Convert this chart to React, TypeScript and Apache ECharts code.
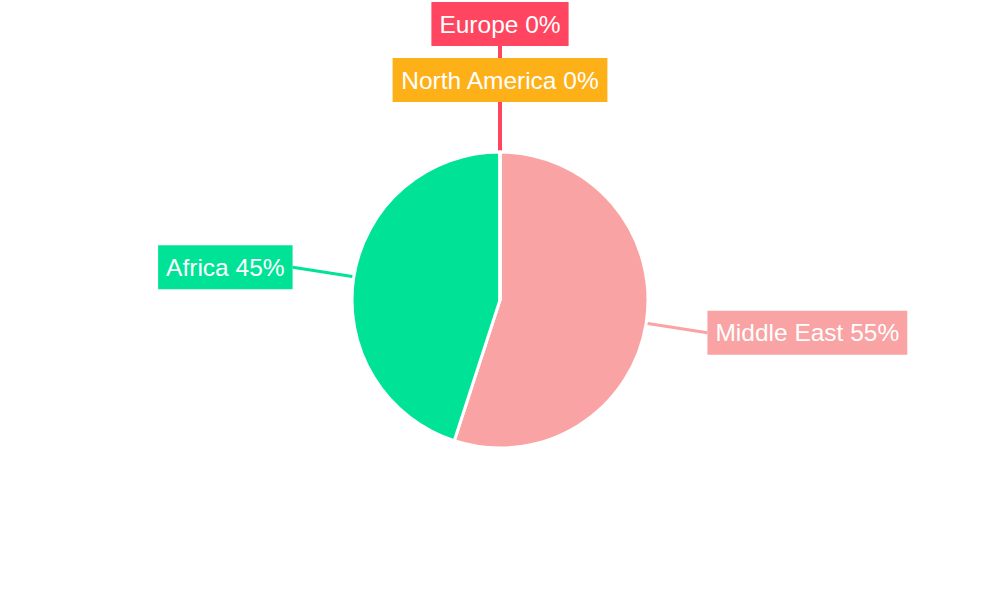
import {useEffect, useRef} from 'react';
import * as echarts from 'echarts';

// regions and their shares
const regions = ['Middle East', 'Africa', 'North America', 'Europe'];
const shares = [55, 45, 0, 0];
const regionColors = ['#F9A3A4', '#00E396', '#FEB019', '#FF4560'];

// how far each label sits from the pie edge
const lineLengths = [62, 62, 50, 106];

export default function App() {
    const ref = useRef<HTMLDivElement | null>(null);

    useEffect(() => {
        document.body.style.margin = '0';
        if (!ref.current) return;
        const chart = echarts.init(ref.current, null, {renderer: 'svg'});

        chart.setOption({
            animation: false,
            series: [
                {
                    type: 'pie',
                    center: ['50%', '50%'],
                    radius: 148,
                    startAngle: 90,
                    clockwise: true,
                    avoidLabelOverlap: false,
                    itemStyle: {borderColor: '#fff', borderWidth: 3},
                    label: {
                        show: true,
                        position: 'outside',
                        formatter: '{b} {d}%',
                        color: '#fff',
                        fontSize: 24.5,
                        fontFamily: '"Liberation Sans", Arial, sans-serif',
                        padding: [10, 8],
                        lineHeight: 24,
                        distanceToLabelLine: 0
                    },
                    labelLine: {show: true, length2: 0, lineStyle: {width: 3}},
                    labelLayout: (p: any) => {
                        if (p.dataIndex < 2 || !p.labelLinePoints) return {};
                        const [x0, y0] = p.labelLinePoints[0];
                        const len = lineLengths[p.dataIndex];
                        const top = y0 - len;
                        return {
                            x: x0,
                            y: top - p.labelRect.height / 2,
                            align: 'center',
                            verticalAlign: 'middle',
                            labelLinePoints: [[x0, y0], [x0, top], [x0, top]]
                        };
                    },
                    data: regions.map((name, i) => ({
                        name,
                        value: shares[i],
                        itemStyle: {color: regionColors[i]},
                        label: {backgroundColor: regionColors[i]},
                        labelLine: {length: lineLengths[i], lineStyle: {width: i > 1 ? 4 : 3}}
                    }))
                }
            ]
        });

        return () => chart.dispose();
    }, []);

    return <div ref={ref} style={{width: 1000, height: 600}}/>;
}
